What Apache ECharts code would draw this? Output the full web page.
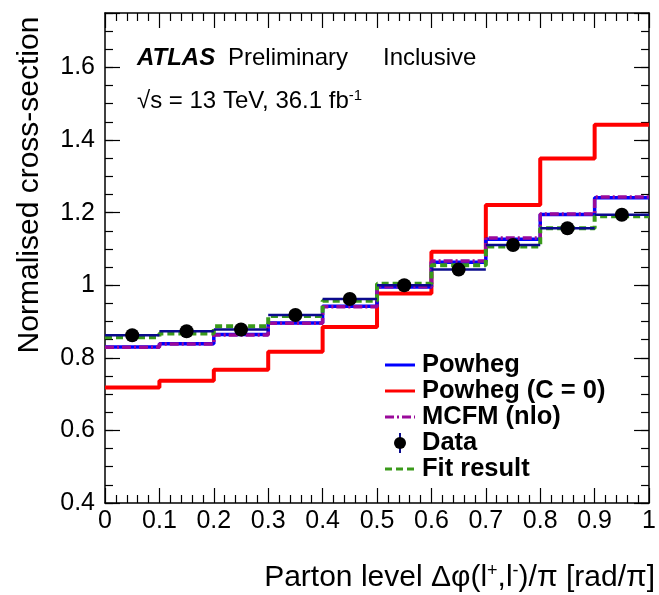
<!DOCTYPE html>
<html>
<head>
<meta charset="utf-8">
<script src="https://cdn.jsdelivr.net/npm/echarts@6/dist/echarts.min.js"></script>
<style>
  html, body { margin: 0; padding: 0; background: #fff; }
  #chart { width: 659px; height: 595px; }
</style>
</head>
<body>
<div id="chart"></div>
<script>
// bin edges of delta phi / pi
const binEdges = [0, 0.1, 0.2, 0.3, 0.4, 0.5, 0.6, 0.7, 0.8, 0.9, 1.0]
// normalised cross-section per bin
const powheg = [0.830, 0.839, 0.864, 0.896, 0.942, 0.995, 1.063, 1.127, 1.195, 1.241]
const powhegC0 = [0.718, 0.737, 0.767, 0.817, 0.885, 0.977, 1.092, 1.221, 1.349, 1.442]
const mcfm = [0.829, 0.838, 0.863, 0.895, 0.941, 0.996, 1.067, 1.130, 1.196, 1.243]
const fitResult = [0.857, 0.867, 0.887, 0.915, 0.957, 1.004, 1.055, 1.107, 1.157, 1.190]
const dataValues = [0.862, 0.873, 0.878, 0.918, 0.962, 1.000, 1.043, 1.111, 1.157, 1.194]
const yTickLabels = ['0.4', '0.6', '0.8', '1', '1.2', '1.4', '1.6']

const FONT = '"Liberation Sans", Arial, Helvetica, sans-serif'

// histogram as step line: horizontal over each bin
function stepData (vals) {
  const pts = vals.map((v, i) => [binEdges[i], v])
  pts.push([binEdges[binEdges.length - 1], vals[vals.length - 1]])
  return pts
}

function stepSeries (name, vals, color, type, width, z) {
  return {
    name: name,
    type: 'line',
    step: 'end',
    data: stepData(vals),
    symbol: 'none',
    z: z,
    lineStyle: { color: color, width: width, type: type },
    silent: true
  }
}

const chart = echarts.init(document.getElementById('chart'))

const baseY = { type: 'value', min: 0.4, max: 1.75, splitLine: { show: false } }
const labelFmt = v => {
  const s = String(Math.round(v * 10) / 10)
  return yTickLabels.indexOf(s) >= 0 && Math.abs(v * 10 - Math.round(v * 10)) < 1e-6 ? s : ''
}

// legend rows (y centres)
const legY = [365, 391, 417, 443, 469]

chart.setOption({
  animation: false,
  grid: { left: 105, right: 8, top: 13, bottom: 92 },
  xAxis: [
    {
      type: 'value', min: 0, max: 1, interval: 0.1, position: 'bottom',
      axisLine: { lineStyle: { color: '#000', width: 1.5 } },
      axisTick: { inside: true, length: 15, lineStyle: { color: '#000', width: 1.2 } },
      minorTick: { show: true, splitNumber: 5, length: 8, lineStyle: { color: '#000', width: 1.2 } },
      axisLabel: { color: '#000', fontSize: 25, fontFamily: FONT, margin: 6,
        formatter: v => (v === 0 ? '0' : v === 1 ? '1' : String(Math.round(v * 10) / 10)) },
      splitLine: { show: false }
    },
    {
      type: 'value', min: 0, max: 1, interval: 0.1, position: 'top',
      axisLine: { lineStyle: { color: '#000', width: 1.5 } },
      axisTick: { inside: true, length: 15, lineStyle: { color: '#000', width: 1.2 } },
      minorTick: { show: true, splitNumber: 5, length: 8, lineStyle: { color: '#000', width: 1.2 } },
      axisLabel: { show: false },
      splitLine: { show: false }
    }
  ],
  yAxis: [
    Object.assign({}, baseY, {
      position: 'left', interval: 0.2,
      axisLine: { show: true, lineStyle: { color: '#000', width: 1.5 } },
      axisTick: { inside: true, length: 15, lineStyle: { color: '#000', width: 1.2 } },
      axisLabel: { color: '#000', fontSize: 25, fontFamily: FONT, margin: 10, formatter: labelFmt }
    }),
    Object.assign({}, baseY, {
      position: 'left', interval: 0.05,
      axisLine: { show: false },
      axisTick: { inside: true, length: 8, lineStyle: { color: '#000', width: 1.2 } },
      axisLabel: { show: false }
    }),
    Object.assign({}, baseY, {
      position: 'right', interval: 0.2,
      axisLine: { show: true, lineStyle: { color: '#000', width: 1.5 } },
      axisTick: { inside: true, length: 15, lineStyle: { color: '#000', width: 1.2 } },
      axisLabel: { show: false }
    }),
    Object.assign({}, baseY, {
      position: 'right', interval: 0.05,
      axisLine: { show: false },
      axisTick: { inside: true, length: 8, lineStyle: { color: '#000', width: 1.2 } },
      axisLabel: { show: false }
    })
  ],
  series: [
    stepSeries('Powheg (C = 0)', powhegC0, '#ff0000', 'solid', 4, 2),
    stepSeries('Powheg', powheg, '#0000ff', 'solid', 3.5, 3),
    stepSeries('MCFM (nlo)', mcfm, '#9a0a9a', [9, 3, 2, 3], 3.5, 4),
    stepSeries('Fit result', fitResult, '#3a9a1a', [7, 4], 4, 5),
    {
      name: 'Data bars',
      type: 'custom',
      z: 6,
      silent: true,
      data: dataValues.map((v, i) => [binEdges[i], binEdges[i + 1], v]),
      renderItem: (params, api) => {
        const a = api.coord([api.value(0), api.value(2)])
        const b = api.coord([api.value(1), api.value(2)])
        return {
          type: 'line',
          shape: { x1: a[0], y1: a[1], x2: b[0], y2: b[1] },
          style: { stroke: '#0a0a8c', lineWidth: 2.5 }
        }
      }
    },
    {
      name: 'Data',
      type: 'scatter',
      z: 7,
      symbol: 'circle',
      symbolSize: 14,
      itemStyle: { color: '#000', opacity: 1 },
      data: dataValues.map((v, i) => [(binEdges[i] + binEdges[i + 1]) / 2, v])
    }
  ],
  graphic: [
    // labels
    { type: 'text', left: 137, top: 46, style: { text: 'ATLAS', font: 'italic bold 24px ' + FONT, fill: '#000' } },
    { type: 'text', left: 228, top: 46, style: { text: 'Preliminary', font: '24px ' + FONT, fill: '#000' } },
    { type: 'text', left: 383, top: 46, style: { text: 'Inclusive', font: '24px ' + FONT, fill: '#000' } },
    {
      type: 'text', left: 137, top: 88,
      style: {
        text: '{a|√s = 13 TeV, 36.1 fb}{s|-1}',
        rich: {
          a: { font: '24px ' + FONT, fill: '#000' },
          s: { font: '15px ' + FONT, fill: '#000', verticalAlign: 'top', padding: [0, 0, 12, 0] }
        }
      }
    },
    // axis titles
    {
      type: 'text', right: 4, top: 562,
      style: {
        text: '{a|Parton level Δφ(l}{s|+}{a|,l}{s|-}{a|)/π [rad/π]}',
        rich: {
          a: { font: '30px ' + FONT, fill: '#000' },
          s: { font: '18px ' + FONT, fill: '#000', padding: [0, 0, 14, 0] }
        }
      }
    },
    {
      type: 'text', x: 30, y: 185, rotation: Math.PI / 2,
      style: { text: 'Normalised cross-section', font: '30px ' + FONT, fill: '#000', align: 'center', verticalAlign: 'middle' }
    },
    // legend
    { type: 'line', shape: { x1: 385, y1: legY[0], x2: 415, y2: legY[0] }, style: { stroke: '#0000ff', lineWidth: 3 } },
    { type: 'text', x: 422, y: legY[0], style: { text: 'Powheg', font: 'bold 25.5px ' + FONT, fill: '#000', verticalAlign: 'middle' } },
    { type: 'line', shape: { x1: 385, y1: legY[1], x2: 415, y2: legY[1] }, style: { stroke: '#ff0000', lineWidth: 3 } },
    { type: 'text', x: 422, y: legY[1], style: { text: 'Powheg (C = 0)', font: 'bold 25.5px ' + FONT, fill: '#000', verticalAlign: 'middle' } },
    { type: 'line', shape: { x1: 385, y1: legY[2], x2: 415, y2: legY[2] }, style: { stroke: '#9a0a9a', lineWidth: 3, lineDash: [9, 3, 2, 3] } },
    { type: 'text', x: 422, y: legY[2], style: { text: 'MCFM (nlo)', font: 'bold 25.5px ' + FONT, fill: '#000', verticalAlign: 'middle' } },
    { type: 'line', shape: { x1: 400, y1: legY[3] - 10, x2: 400, y2: legY[3] + 10 }, style: { stroke: '#0a0a8c', lineWidth: 2 } },
    { type: 'circle', shape: { cx: 400, cy: legY[3], r: 6 }, style: { fill: '#000' } },
    { type: 'text', x: 422, y: legY[3], style: { text: 'Data', font: 'bold 25.5px ' + FONT, fill: '#000', verticalAlign: 'middle' } },
    { type: 'line', shape: { x1: 385, y1: legY[4], x2: 415, y2: legY[4] }, style: { stroke: '#3a9a1a', lineWidth: 3, lineDash: [7, 4] } },
    { type: 'text', x: 422, y: legY[4], style: { text: 'Fit result', font: 'bold 25.5px ' + FONT, fill: '#000', verticalAlign: 'middle' } }
  ]
})
</script>
</body>
</html>
